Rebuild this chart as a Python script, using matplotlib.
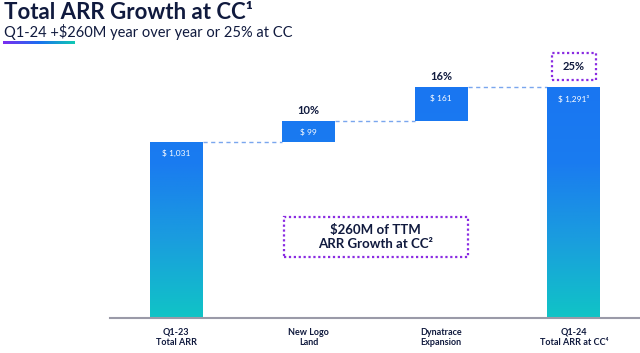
import matplotlib.pyplot as plt
import numpy as np
from matplotlib.colors import LinearSegmentedColormap
from matplotlib.patches import Rectangle

plt.rcParams['font.family'] = ['Lato', 'DejaVu Sans']

# data
categories = ["Q1-23\nTotal ARR", "New Logo\nLand", "Dynatrace\nExpansion", "Q1-24\nTotal ARR at CC\u2074"]
start_arr = 1031
increments = [99, 161]
end_arr = 1291
value_labels = ["\\$ 1,031", "\\$ 99", "\\$ 161", "\\$ 1,291\u00b3"]
pct_labels = ["", "10%", "16%", "25%"]

navy = "#101a3e"
purple = "#8a2be2"

# bar bottoms/heights
bottoms = [0, start_arr, start_arr + increments[0], 0]
heights = [start_arr, increments[0], increments[1], end_arr]
tops = [b + h for b, h in zip(bottoms, heights)]

fig = plt.figure(figsize=(6.4, 3.53), dpi=100)
ax = fig.add_axes([0.172, 0.099, 0.828, 0.73])

ymin, ymax = 199, 1419
ax.set_xlim(-0.5, 3.5)
ax.set_ylim(ymin, ymax)

x = np.arange(len(categories))
w = 0.40
bars = ax.bar(x, heights, bottom=bottoms, width=w, color="none", zorder=2)

cmap = LinearSegmentedColormap.from_list("arr", ["#10c4c6", "#1a9ede", "#1a7cf0", "#1976f2"])
for b, bot, top in zip(bars, bottoms, tops):
    y0 = max(bot, ymin)
    ys = np.linspace(y0, top, 200).reshape(-1, 1)
    grad = (ys - ymin) / (end_arr - ymin)
    im = ax.imshow(grad, cmap=cmap, vmin=0, vmax=1, origin="lower", aspect="auto",
                   extent=[b.get_x(), b.get_x() + b.get_width(), y0, top], zorder=2)
    im.set_clip_path(b)

# dashed connectors
for i in range(3):
    ax.plot([x[i] + w / 2, x[i + 1] - w / 2], [tops[i], tops[i]], color="#7aa6ee",
            lw=1.0, ls=(0, (3, 2.5)), zorder=1)

# values inside bars
for i in range(4):
    ax.annotate(value_labels[i], (x[i], tops[i]), xytext=(0, -8), textcoords="offset points",
                ha="center", va="center", color="white", fontsize=6, zorder=3)

# percentage labels
for i in range(1, 4):
    off = 8 if i < 3 else 15
    ax.annotate(pct_labels[i], (x[i], tops[i]), xytext=(0, off), textcoords="offset points",
                ha="center", va="center", color=navy, fontsize=8, fontweight="bold", zorder=3)

# dotted box around 25%
ax.add_patch(Rectangle((x[3] - 0.165, 1326), 0.33, 128, fill=False,
                       ec=purple, lw=1.6, ls=(0, (1, 1.2)), clip_on=False))

# middle callout
ax.add_patch(Rectangle((0.81, 488), 1.39, 189, fill=False, ec=purple, lw=1.6,
                       ls=(0, (1, 1.2)), clip_on=False))
ax.text(1.505, 582, "\\$260M of TTM\nARR Growth at CC\u00b2", ha="center", va="center",
        fontsize=9.5, fontweight="bold", color=navy, linespacing=1.15)

ax.set_xticks(x)
ax.set_xticklabels(categories, fontsize=6.5, fontweight="bold", color=navy, linespacing=1.2)
ax.tick_params(axis="x", length=0, pad=7)
ax.set_yticks([])
for s in ["top", "left", "right"]:
    ax.spines[s].set_visible(False)
ax.spines["bottom"].set_color("#9a9aa8")
ax.spines["bottom"].set_linewidth(1.5)
ax.spines["bottom"].set_zorder(4)

# title block
fig.text(0.006, 0.946, "Total ARR Growth at CC\u00b9", ha="left", va="baseline",
         fontsize=16, fontweight="bold", color=navy)
fig.text(0.006, 0.894, "Q1-24 +$260M year over year or 25% at CC", ha="left", va="baseline",
         fontsize=10.5, color=navy)
lax = fig.add_axes([0.005, 0.876, 0.112, 0.009])
lax.imshow(np.linspace(0, 1, 100).reshape(1, -1), aspect="auto",
           cmap=LinearSegmentedColormap.from_list("ul", ["#7b2cf0", "#1a6ff0", "#10c8b4"]))
lax.axis("off")

fig.savefig("out.png", dpi=100)
